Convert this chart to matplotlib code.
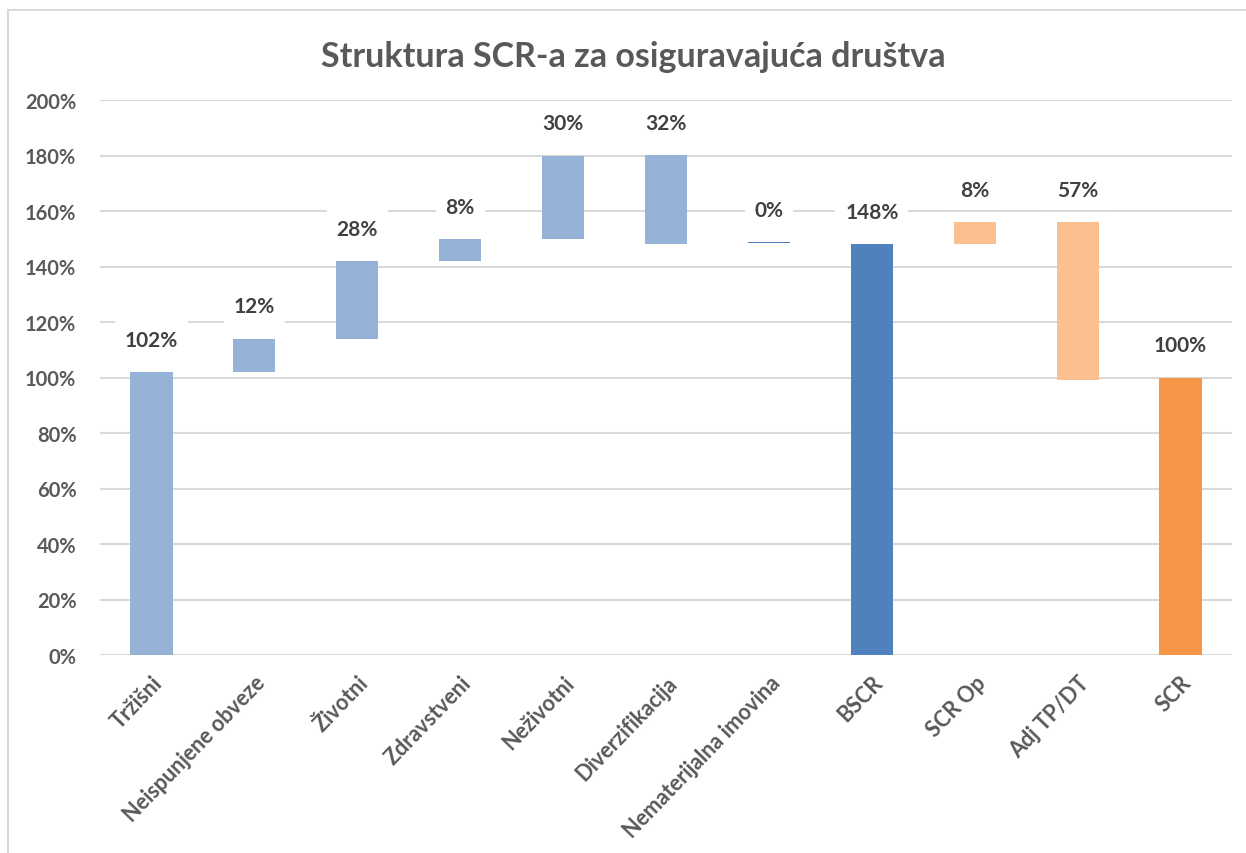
import numpy as np
import matplotlib.pyplot as plt
from matplotlib.lines import Line2D

plt.rcParams['font.family'] = ['Lato', 'DejaVu Sans']

categories = ['Tržišni', 'Neispunjene obveze', 'Životni', 'Zdravstveni', 'Neživotni',
              'Diverzifikacija', 'Nematerijalna imovina', 'BSCR', 'SCR Op', 'Adj TP/DT', 'SCR']
bottoms = [0, 102, 114, 142, 150, 148, 148.3, 0, 148, 99, 0]
tops = [102, 114, 142, 150, 180, 180, 148.7, 148, 156, 156, 100]
labels = ['102%', '12%', '28%', '8%', '30%', '32%', '0%', '148%', '8%', '57%', '100%']
colors = ['#95B3D7'] * 6 + ['#4F81BD', '#4F81BD', '#FAC090', '#FAC090', '#F79646']

fig = plt.figure(figsize=(12.46, 8.54), dpi=100)
ax = fig.add_axes([100 / 1246, 1 - 656 / 854, 1132 / 1246, 555 / 854])

x = np.arange(len(categories))
heights = np.array(tops) - np.array(bottoms)
ax.bar(x, heights, bottom=bottoms, width=0.41, color=colors, zorder=3)

for xi, t, lab in zip(x, tops, labels):
    ax.text(xi, t + 8, lab, ha='center', va='bottom', fontsize=15, fontweight='bold',
            color='#404040', zorder=4,
            bbox=dict(facecolor='white', edgecolor='none', pad=7))

ax.set_xlim(-0.5, len(categories) - 0.5)
ax.set_ylim(0, 200)
ax.set_yticks(np.arange(0, 201, 20))
ax.set_yticklabels([f'{v}%' for v in range(0, 201, 20)], fontsize=14.5,
                   fontweight='bold', color='#595959')
ax.yaxis.grid(True, color='#D9D9D9', linewidth=1.5, zorder=0)
ax.set_axisbelow(True)
ax.tick_params(axis='both', length=0)
ax.tick_params(axis='y', pad=17)
ax.set_xticks(x)
ax.set_xticklabels(categories, rotation=46, ha='right', rotation_mode='anchor',
                   fontsize=15.5, fontweight='bold', color='#595959')
ax.tick_params(axis='x', pad=12)
for s in ax.spines.values():
    s.set_visible(False)

fig.text(0.508, 1 - 57 / 854, 'Struktura SCR-a za osiguravajuća društva', ha='center',
         va='center', fontsize=24.5, fontweight='bold', color='#595959')

# chart border (top and left edges only visible)
fig.add_artist(Line2D([8 / 1246, 1], [1 - 11 / 854, 1 - 11 / 854], color='#D9D9D9',
                      linewidth=1.5, transform=fig.transFigure))
fig.add_artist(Line2D([8 / 1246, 8 / 1246], [0, 1 - 11 / 854], color='#D9D9D9',
                      linewidth=1.5, transform=fig.transFigure))

fig.savefig('out.png', dpi=100)
